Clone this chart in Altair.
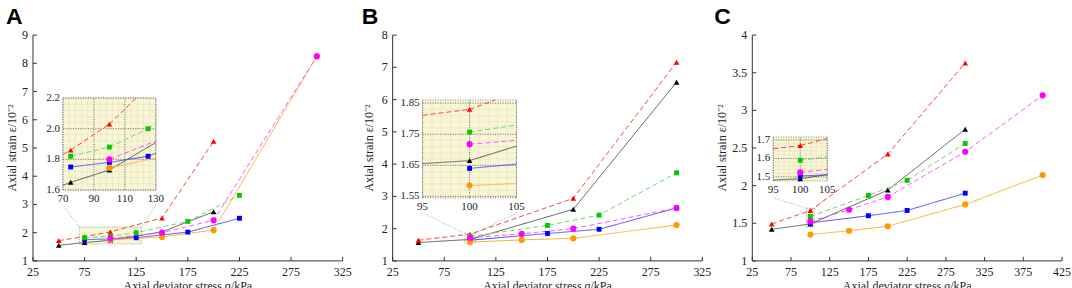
import altair as alt
import pandas as pd

# ---------------- series ----------------
LABELS = ["s=50kPa, 100min", "s=50kPa, 2500min", "s=100kPa, 100min",
          "s=100kPa, 2500min", "s=200kPa, 100min", "s=200kPa, 2500min"]
SHAPES = ["triangle-up", "triangle-up", "square", "square", "circle", "circle"]
LINE_COLORS = ["#555555", "#ff4040", "#4a4aff", "#6fd66f", "#ffb02e", "#ff55ff"]
MARK_COLORS = ["#000000", "#ff0000", "#0000ff", "#00cc00", "#ff9900", "#ff00ff"]
DASHES = [[1, 0], [5, 3], [1, 0], [5, 3], [1, 0], [5, 3]]

# ---------------- panel A data ----------------
A_q_50_100 = [50, 75, 100, 150, 200]
A_e_50_100 = [1.55, 1.65, 1.73, 2.03, 2.74]
A_q_50_2500 = [50, 75, 100, 150, 200]
A_e_50_2500 = [1.72, 1.86, 2.03, 2.52, 5.24]
A_q_100_100 = [75, 100, 125, 175, 225]
A_e_100_100 = [1.75, 1.78, 1.82, 2.02, 2.51]
A_q_100_2500 = [75, 100, 125, 175, 225]
A_e_100_2500 = [1.82, 1.88, 2.0, 2.4, 3.32]
A_q_200_100 = [100, 150, 200, 300]
A_e_200_100 = [1.745, 1.85, 2.09, 8.25]
A_q_200_2500 = [100, 150, 200, 300]
A_e_200_2500 = [1.8, 2.0, 2.44, 8.25]

# ---------------- panel B data ----------------
B_q_50_100 = [50, 100, 200, 300]
B_e_50_100 = [1.57, 1.665, 2.6, 6.54]
B_q_50_2500 = [50, 100, 200, 300]
B_e_50_2500 = [1.64, 1.83, 2.94, 7.16]
B_q_100_100 = [100, 175, 225, 300]
B_e_100_100 = [1.64, 1.85, 1.98, 2.64]
B_q_100_2500 = [100, 175, 225, 300]
B_e_100_2500 = [1.757, 2.1, 2.42, 3.73]
B_q_200_100 = [100, 150, 200, 300]
B_e_200_100 = [1.585, 1.65, 1.7, 2.11]
B_q_200_2500 = [100, 150, 200, 300]
B_e_200_2500 = [1.718, 1.84, 2.0, 2.64]

# ---------------- panel C data ----------------
C_q_50_100 = [50, 100, 200, 300]
C_e_50_100 = [1.42, 1.49, 1.94, 2.75]
C_q_50_2500 = [50, 100, 200, 300]
C_e_50_2500 = [1.49, 1.67, 2.42, 3.63]
C_q_100_100 = [100, 175, 225, 300]
C_e_100_100 = [1.505, 1.6, 1.67, 1.9]
C_q_100_2500 = [100, 175, 225, 300]
C_e_100_2500 = [1.59, 1.87, 2.07, 2.56]
C_q_200_100 = [100, 150, 200, 300, 400]
C_e_200_100 = [1.35, 1.4, 1.46, 1.75, 2.14]
C_q_200_2500 = [100, 150, 200, 300, 400]
C_e_200_2500 = [1.525, 1.68, 1.85, 2.45, 3.2]

# ---------------- main axes: ranges, tick positions and tick labels ----------------
A_xdom = [25, 325]
A_ydom = [1, 9]
A_xticks = [25, 75, 125, 175, 225, 275, 325]
A_xlabels = ["25", "75", "125", "175", "225", "275", "325"]
A_yticks = [1, 2, 3, 4, 5, 6, 7, 8, 9]
A_ylabels = ["1", "2", "3", "4", "5", "6", "7", "8", "9"]
B_xdom = [25, 325]
B_ydom = [1, 8]
B_xticks = [25, 75, 125, 175, 225, 275, 325]
B_xlabels = ["25", "75", "125", "175", "225", "275", "325"]
B_yticks = [1, 2, 3, 4, 5, 6, 7, 8]
B_ylabels = ["1", "2", "3", "4", "5", "6", "7", "8"]
C_xdom = [25, 425]
C_ydom = [1, 4]
C_xticks = [25, 75, 125, 175, 225, 275, 325, 375, 425]
C_xlabels = ["25", "75", "125", "175", "225", "275", "325", "375", "425"]
C_yticks = [1, 1.5, 2, 2.5, 3, 3.5, 4]
C_ylabels = ["1", "1.5", "2", "2.5", "3", "3.5", "4"]

# ---------------- zoom windows (inset domains, boxes, inset tick labels) ----------------
A_in_x = [70, 130]
A_in_y = [1.6, 2.2]
A_box_y = [1.6, 2.2]
A_in_xt = [70, 90, 110, 130]
A_in_xl = ["70", "90", "110", "130"]
A_in_yt = [1.6, 1.8, 2.0, 2.2]
A_in_yl = ["1.6", "1.8", "2.0", "2.2"]
B_in_x = [95, 105]
B_in_y = [1.545, 1.86]
B_box_y = [1.55, 1.85]
B_in_xt = [95, 100, 105]
B_in_xl = ["95", "100", "105"]
B_in_yt = [1.55, 1.65, 1.75, 1.85]
B_in_yl = ["1.55", "1.65", "1.75", "1.85"]
C_in_x = [95, 105]
C_in_y = [1.478, 1.716]
C_box_y = [1.45, 1.70]
C_in_xt = [95, 100, 105]
C_in_xl = ["95", "100", "105"]
C_in_yt = [1.5, 1.6, 1.7]
C_in_yl = ["1.5", "1.6", "1.7"]

SERIF = "Liberation Serif"
LEGFONT = "DejaVu Sans Mono"
W, H = 310, 226
INSET_BG = "#f8f6d6"
AXIS_COLOR = "#333"
XTITLE = "Axial deviator stress q/kPa"
YTITLE = "Axial strain ε/10⁻²"


def steps(a, b, s):
    out, v = [], a
    while v <= b + 1e-9:
        out.append(round(v, 4))
        v += s
    return out


def make_df(qs, es):
    rows = []
    for lab, shp, q, e in zip(LABELS, SHAPES, qs, es):
        for qq, ee in zip(q, e):
            rows.append({"series": lab, "shape": shp, "q": qq, "eps": ee})
    return pd.DataFrame(rows)


dfA = make_df([A_q_50_100, A_q_50_2500, A_q_100_100, A_q_100_2500, A_q_200_100, A_q_200_2500],
              [A_e_50_100, A_e_50_2500, A_e_100_100, A_e_100_2500, A_e_200_100, A_e_200_2500])
dfB = make_df([B_q_50_100, B_q_50_2500, B_q_100_100, B_q_100_2500, B_q_200_100, B_q_200_2500],
              [B_e_50_100, B_e_50_2500, B_e_100_100, B_e_100_2500, B_e_200_100, B_e_200_2500])
dfC = make_df([C_q_50_100, C_q_50_2500, C_q_100_100, C_q_100_2500, C_q_200_100, C_q_200_2500],
              [C_e_50_100, C_e_50_2500, C_e_100_100, C_e_100_2500, C_e_200_100, C_e_200_2500])

# legend symbols (filled paths): a short line (solid or dashed) with the marker in the middle
BAR_SOLID = "M-1,-0.15H4.3V0.15H-1Z"
BAR_DASH = "M-1,-0.15H0.43V0.15H-1ZM1.29,-0.15H2.72V0.15H1.29ZM3.58,-0.15H4.3V0.15H3.58Z"
M_TRI = "M1.65,-0.95L2.55,0.7L0.75,0.7Z"
M_SQ = "M0.95,-0.7H2.35V0.7H0.95Z"
M_CIR = "M2.55,0A0.9,0.9,0,1,1,0.75,0A0.9,0.9,0,1,1,2.55,0Z"
LEG_PATHS = [BAR_SOLID + M_TRI, BAR_DASH + M_TRI, BAR_SOLID + M_SQ,
             BAR_DASH + M_SQ, BAR_SOLID + M_CIR, BAR_DASH + M_CIR]
MARK_SIZE = {"triangle-up": 32, "square": 24, "circle": 38}


def scales(order):
    dom = [LABELS[i] for i in order]
    return (alt.Scale(domain=dom, range=[LINE_COLORS[i] for i in order]),
            alt.Scale(domain=dom, range=[MARK_COLORS[i] for i in order]),
            alt.Scale(domain=dom, range=[DASHES[i] for i in order]),
            alt.Scale(domain=dom, range=[LEG_PATHS[i] for i in order]))


def point_layers(base, xs, ys, fill_sc):
    out = []
    for shp in ["triangle-up", "square", "circle"]:
        out.append(base.transform_filter(alt.datum.shape == shp).mark_point(
            filled=True, shape=shp, size=MARK_SIZE[shp], opacity=1).encode(
            x=alt.X("q:Q", scale=xs, axis=None),
            y=alt.Y("eps:Q", scale=ys, axis=None),
            fill=alt.Fill("series:N", scale=fill_sc, legend=None)))
    return out


def panel(df, xdom, ydom, xticks, xlabels, yticks, ylabels, in_x, in_y, box_y,
          in_xt, in_xl, in_yt, in_yl, minor_x, minor_y, inset_px, conn_y,
          letter, dx, ytitle_x, order, cols, lx, ly):
    stroke_sc, fill_sc, dash_sc, shape_sc = scales(order)
    xs = alt.Scale(domain=xdom, nice=False, zero=False)
    ys = alt.Scale(domain=ydom, nice=False, zero=False)
    ix0, ix1, iy0, iy1 = inset_px

    # ---------------- axes drawn with marks ----------------
    one = pd.DataFrame({"a": [0]})
    xdomain_line = alt.Chart(one).mark_rule(color=AXIS_COLOR, strokeWidth=1).encode(
        x=alt.value(0), x2=alt.value(W), y=alt.value(H))
    ydomain_line = alt.Chart(one).mark_rule(color=AXIS_COLOR, strokeWidth=1).encode(
        x=alt.value(0), y=alt.value(0), y2=alt.value(H))
    xtd = pd.DataFrame({"t": xticks, "lab": xlabels})
    ytd = pd.DataFrame({"t": yticks, "lab": ylabels})
    xt = alt.Chart(xtd).mark_rule(color=AXIS_COLOR, strokeWidth=1).encode(
        x=alt.X("t:Q", scale=xs, axis=None), y=alt.value(H), y2=alt.value(H - 4))
    yt = alt.Chart(ytd).mark_rule(color=AXIS_COLOR, strokeWidth=1).encode(
        y=alt.Y("t:Q", scale=ys, axis=None), x=alt.value(0), x2=alt.value(4))
    xl = alt.Chart(xtd).mark_text(baseline="top", font=SERIF, fontSize=12, color="#222").encode(
        x=alt.X("t:Q", scale=xs, axis=None), y=alt.value(H + 6), text="lab:N")
    yl = alt.Chart(ytd).mark_text(align="right", baseline="middle", font=SERIF, fontSize=12,
                                  color="#222").encode(
        y=alt.Y("t:Q", scale=ys, axis=None), x=alt.value(-5), text="lab:N")
    xtitle = alt.Chart(pd.DataFrame({"t": [XTITLE]})).mark_text(
        baseline="top", font=SERIF, fontSize=12, color="#222").encode(
        x=alt.value(W / 2), y=alt.value(H + 20), text="t:N")
    ytitle = alt.Chart(pd.DataFrame({"t": [YTITLE]})).mark_text(
        angle=270, baseline="middle", font=SERIF, fontSize=12, color="#222").encode(
        x=alt.value(ytitle_x), y=alt.value(H / 2), text="t:N")

    # ---------------- zoom box and connectors ----------------
    box = pd.DataFrame({"x0": [in_x[0]], "x1": [in_x[1]], "y0": [box_y[0]], "y1": [box_y[1]]})
    rect = alt.Chart(box).mark_rect(fill=INSET_BG, stroke="#888", strokeDash=[1, 1.5],
                                    strokeWidth=0.8).encode(
        x=alt.X("x0:Q", scale=xs, axis=None), x2="x1",
        y=alt.Y("y0:Q", scale=ys, axis=None), y2="y1")
    c1 = alt.Chart(box).mark_rule(color="#999", strokeDash=[1, 1.5], strokeWidth=0.8).encode(
        x=alt.X("x0:Q", scale=xs, axis=None), y=alt.Y("y1:Q", scale=ys, axis=None),
        x2=alt.value(ix0), y2=alt.value(conn_y))
    c2 = alt.Chart(box).mark_rule(color="#999", strokeDash=[1, 1.5], strokeWidth=0.8).encode(
        x=alt.X("x1:Q", scale=xs, axis=None), y=alt.Y("y1:Q", scale=ys, axis=None),
        x2=alt.value(ix1), y2=alt.value(conn_y))

    # ---------------- series ----------------
    base = alt.Chart(df)
    lines = base.mark_line(strokeWidth=1).encode(
        x=alt.X("q:Q", scale=xs, axis=None),
        y=alt.Y("eps:Q", scale=ys, axis=None),
        stroke=alt.Stroke("series:N", scale=stroke_sc, legend=None),
        strokeDash=alt.StrokeDash("series:N", scale=dash_sc, legend=None))
    pts = point_layers(base, xs, ys, fill_sc)

    color_sc = alt.Scale(domain=[LABELS[i] for i in order], range=[MARK_COLORS[i] for i in order])
    legend = alt.Legend(title=None, orient="none", legendX=lx, legendY=ly, columns=cols,
                        labelFont=LEGFONT, labelFontSize=9.7, labelColor="#222",
                        symbolSize=49, symbolStrokeWidth=0, labelOffset=13.5,
                        rowPadding=4, columnPadding=8, symbolOffset=0)
    leg = base.transform_filter("false").mark_point(
        filled=True, size=49, opacity=1, strokeWidth=0).encode(
        x=alt.X("q:Q", scale=xs, axis=None),
        y=alt.Y("eps:Q", scale=ys, axis=None),
        color=alt.Color("series:N", scale=color_sc, legend=legend),
        shape=alt.Shape("series:N", scale=shape_sc, legend=legend))

    main = alt.layer(rect, c1, c2, lines, *pts, leg, xdomain_line, ydomain_line,
                     xt, yt, xl, yl, xtitle, ytitle)

    # ---------------- inset: own scales mapped onto a small window of the plot ----------------
    sx = alt.Scale(domain=in_x, range=[ix0, ix1], nice=False, zero=False)
    sy = alt.Scale(domain=in_y, range=[iy1, iy0], nice=False, zero=False)
    ibox = pd.DataFrame({"x0": [in_x[0]], "x1": [in_x[1]], "y0": [in_y[0]], "y1": [in_y[1]]})
    bg = alt.Chart(ibox).mark_rect(fill=INSET_BG, stroke="#888", strokeDash=[1, 1.5],
                                   strokeWidth=1).encode(
        x=alt.X("x0:Q", scale=sx, axis=None), x2="x1",
        y=alt.Y("y0:Q", scale=sy, axis=None), y2="y1")
    gx_min = pd.DataFrame({"v": minor_x, "lo": in_y[0], "hi": in_y[1]})
    gy_min = pd.DataFrame({"v": minor_y, "lo": in_x[0], "hi": in_x[1]})
    gx_maj = pd.DataFrame({"v": in_xt, "lo": in_y[0], "hi": in_y[1], "lab": in_xl})
    gy_maj = pd.DataFrame({"v": in_yt, "lo": in_x[0], "hi": in_x[1], "lab": in_yl})
    g1 = alt.Chart(gx_min).mark_rule(color="#e6e2b8", strokeWidth=0.6).encode(
        x=alt.X("v:Q", scale=sx, axis=None), y=alt.Y("lo:Q", scale=sy, axis=None), y2="hi")
    g2 = alt.Chart(gy_min).mark_rule(color="#e6e2b8", strokeWidth=0.6).encode(
        y=alt.Y("v:Q", scale=sy, axis=None), x=alt.X("lo:Q", scale=sx, axis=None), x2="hi")
    g3 = alt.Chart(gx_maj).mark_rule(color="#666", strokeWidth=0.9, strokeDash=[1, 1.5]).encode(
        x=alt.X("v:Q", scale=sx, axis=None), y=alt.Y("lo:Q", scale=sy, axis=None), y2="hi")
    g4 = alt.Chart(gy_maj).mark_rule(color="#666", strokeWidth=0.9, strokeDash=[1, 1.5]).encode(
        y=alt.Y("v:Q", scale=sy, axis=None), x=alt.X("lo:Q", scale=sx, axis=None), x2="hi")
    tx = alt.Chart(gx_maj).mark_text(baseline="top", dy=3, font=SERIF, fontSize=11,
                                     color="#222").encode(
        x=alt.X("v:Q", scale=sx, axis=None), y=alt.Y("lo:Q", scale=sy, axis=None), text="lab:N")
    ty = alt.Chart(gy_maj).mark_text(align="right", baseline="middle", dx=-3, font=SERIF,
                                     fontSize=11, color="#222").encode(
        y=alt.Y("v:Q", scale=sy, axis=None), x=alt.X("lo:Q", scale=sx, axis=None), text="lab:N")

    X0, X1, Y0, Y1 = in_x[0], in_x[1], in_y[0], in_y[1]
    seg = base.transform_window(
        q2="lead(q)", e2="lead(eps)", groupby=["series"], sort=[alt.SortField("q")]
    ).transform_filter("isValid(datum.q2)").transform_calculate(
        dx="datum.q2 - datum.q", dy="datum.e2 - datum.eps"
    ).transform_calculate(
        tx0=f"datum.dx > 0 ? ({X0} - datum.q) / datum.dx : datum.dx < 0 ? ({X1} - datum.q) / datum.dx : (datum.q >= {X0} && datum.q <= {X1} ? -1e9 : 1e9)",
        tx1=f"datum.dx > 0 ? ({X1} - datum.q) / datum.dx : datum.dx < 0 ? ({X0} - datum.q) / datum.dx : (datum.q >= {X0} && datum.q <= {X1} ? 1e9 : -1e9)",
        ty0=f"datum.dy > 0 ? ({Y0} - datum.eps) / datum.dy : datum.dy < 0 ? ({Y1} - datum.eps) / datum.dy : (datum.eps >= {Y0} && datum.eps <= {Y1} ? -1e9 : 1e9)",
        ty1=f"datum.dy > 0 ? ({Y1} - datum.eps) / datum.dy : datum.dy < 0 ? ({Y0} - datum.eps) / datum.dy : (datum.eps >= {Y0} && datum.eps <= {Y1} ? 1e9 : -1e9)",
    ).transform_calculate(
        t0="max(0, datum.tx0, datum.ty0)", t1="min(1, datum.tx1, datum.ty1)"
    ).transform_filter("datum.t0 < datum.t1").transform_calculate(
        xa="datum.q + datum.t0 * datum.dx", ya="datum.eps + datum.t0 * datum.dy",
        xb="datum.q + datum.t1 * datum.dx", yb="datum.eps + datum.t1 * datum.dy"
    ).mark_rule(strokeWidth=1).encode(
        x=alt.X("xa:Q", scale=sx, axis=None), y=alt.Y("ya:Q", scale=sy, axis=None),
        x2="xb", y2="yb",
        stroke=alt.Stroke("series:N", scale=stroke_sc, legend=None),
        strokeDash=alt.StrokeDash("series:N", scale=dash_sc, legend=None))
    ibase = base.transform_filter(
        f"datum.q >= {X0} && datum.q <= {X1} && datum.eps >= {Y0} && datum.eps <= {Y1}")
    ipts = point_layers(ibase, sx, sy, fill_sc)
    inset = alt.layer(bg, g1, g2, g3, g4, seg, *ipts, tx, ty)

    return alt.layer(main, inset).resolve_scale(x="independent", y="independent").properties(
        width=W, height=H,
        title=alt.TitleParams(text=letter, anchor="start", frame="group", font="Liberation Sans",
                              fontSize=23, fontWeight="bold", color="#000", dx=dx, offset=0))


ORDER_2COL = [0, 3, 1, 4, 2, 5]
ORDER_1COL = [0, 1, 2, 3, 4, 5]

pA = panel(dfA, A_xdom, A_ydom, A_xticks, A_xlabels, A_yticks, A_ylabels,
           A_in_x, A_in_y, A_box_y, A_in_xt, A_in_xl, A_in_yt, A_in_yl,
           steps(70, 130, 4), steps(1.6, 2.2, 0.04),
           [30, 123, 63, 155], 170, "A", -27, -21, ORDER_2COL, 2, 9.7, 10.5)
pB = panel(dfB, B_xdom, B_ydom, B_xticks, B_xlabels, B_yticks, B_ylabels,
           B_in_x, B_in_y, B_box_y, B_in_xt, B_in_xl, B_in_yt, B_in_yl,
           steps(95, 105, 1), steps(1.55, 1.85, 0.02),
           [30, 124, 65, 163], 178, "B", -31, -24, ORDER_2COL, 2, 9.7, 10.5)
pC = panel(dfC, C_xdom, C_ydom, C_xticks, C_xlabels, C_yticks, C_ylabels,
           C_in_x, C_in_y, C_box_y, C_in_xt, C_in_xl, C_in_yt, C_in_yl,
           steps(95, 105, 1), steps(1.48, 1.71, 0.02),
           [21, 75, 102, 146], 163, "C", -38, -30, ORDER_1COL, 1, 11, 10.5)

chart = alt.hconcat(pA, pB, pC, spacing=50, bounds="flush").resolve_scale(
    color="independent", shape="independent", fill="independent",
    stroke="independent", strokeDash="independent"
).properties(
    padding={"left": 5, "top": 5, "right": 0, "bottom": 0},
).configure(background="white").configure_view(stroke="transparent")

chart.save("out.html", embed_options={"renderer": "svg", "actions": False})
